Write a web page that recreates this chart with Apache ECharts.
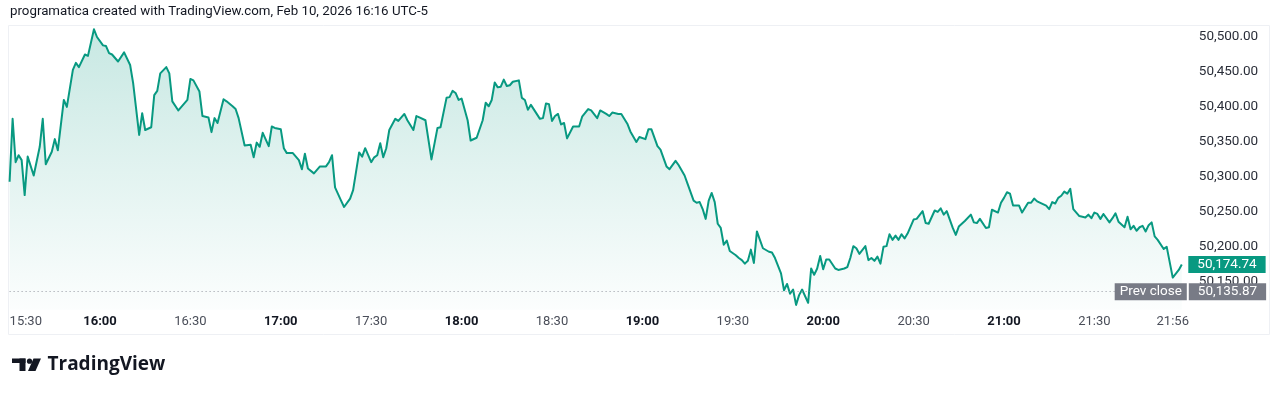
<!DOCTYPE html>
<html><head><meta charset="utf-8">
<script src="https://cdn.jsdelivr.net/npm/echarts@6/dist/echarts.min.js"></script>
<style>html,body{margin:0;padding:0;background:#fff;}#c{width:1280px;height:394px;}</style>
</head><body><div id="c"></div>
<script>
const headerText = 'programatica created with TradingView.com, Feb 10, 2026 16:16 UTC-5';
const brandText = 'TradingView';
const prevCloseLabel = 'Prev close';
const prevClose = 50135.87;
const sessionStart = '15:30';
const sessionEnd = '22:00';
const tickLabels = ['15:30','16:00','16:30','17:00','17:30','18:00','18:30','19:00','19:30','20:00','20:30','21:00','21:30','21:56'];

const times = [
'15:30','15:31','15:32','15:33','15:34','15:35','15:36','15:38','15:40','15:41','15:42','15:44','15:45','15:46','15:48','15:49',
'15:51','15:52','15:53','15:55','15:56','15:58','15:59','16:01','16:02','16:03','16:04','16:06','16:08','16:10','16:11','16:13',
'16:14','16:15','16:17','16:18','16:19','16:20','16:22','16:23','16:24','16:26','16:29','16:30','16:31','16:33','16:34','16:36',
'16:37','16:38','16:39','16:41','16:42','16:44','16:45','16:46','16:48','16:50','16:51','16:52','16:53','16:54','16:56','16:57',
'16:58','17:00','17:01','17:02','17:04','17:06','17:07','17:08','17:09','17:11','17:13','17:15','17:16','17:17','17:18','17:20',
'17:21','17:23','17:24','17:26','17:27','17:28','17:30','17:31','17:32','17:33','17:34','17:35','17:36','17:38','17:39','17:41',
'17:42','17:44','17:45','17:46','17:48','17:49','17:50','17:52','17:53','17:55','17:56','17:57','17:58','17:59','18:00','18:02',
'18:03','18:05','18:07','18:08','18:09','18:10','18:11','18:12','18:13','18:14','18:15','18:16','18:17','18:19','18:20','18:21',
'18:22','18:23','18:26','18:27','18:28','18:29','18:30','18:31','18:32','18:33','18:34','18:35','18:37','18:39','18:40','18:42',
'18:43','18:45','18:46','18:48','18:49','18:50','18:52','18:53','18:55','18:56','18:58','18:59','19:01','19:02','19:03','19:05',
'19:06','19:08','19:09','19:11','19:12','19:14','19:15','19:17','19:18','19:19','19:20','19:21','19:22','19:23','19:24','19:25',
'19:26','19:27','19:28','19:29','19:31','19:32','19:33','19:34','19:35','19:36','19:37','19:38','19:39','19:40','19:42','19:43',
'19:44','19:46','19:47','19:48','19:49','19:50','19:51','19:52','19:53','19:55','19:56','19:57','19:58','19:59','20:00','20:01',
'20:02','20:04','20:05','20:07','20:08','20:09','20:10','20:11','20:12','20:14','20:15','20:16','20:17','20:18','20:19','20:20',
'20:21','20:22','20:23','20:24','20:25','20:26','20:27','20:28','20:30','20:31','20:33','20:34','20:35','20:37','20:38','20:39',
'20:40','20:41','20:43','20:44','20:45','20:47','20:49','20:50','20:51','20:52','20:54','20:55','20:56','20:58','20:59','21:00',
'21:01','21:02','21:03','21:05','21:06','21:08','21:09','21:10','21:11','21:14','21:15','21:16','21:17','21:18','21:19','21:20',
'21:21','21:22','21:23','21:25','21:27','21:28','21:29','21:30','21:31','21:32','21:33','21:35','21:36','21:37','21:38','21:40',
'21:41','21:42','21:43','21:44','21:45','21:46','21:47','21:48','21:49','21:50','21:51','21:53','21:54','21:56','21:58','21:59'
];

const prices = [
50293,50383,50321,50331,50324,50274,50329,50302,50343,50383,50318,50336,50354,50338,50410,50400,
50453,50463,50457,50475,50473,50511,50500,50488,50487,50477,50475,50465,50478,50460,50434,50360,
50391,50367,50371,50417,50423,50448,50457,50448,50408,50395,50410,50440,50438,50422,50387,50385,
50364,50384,50377,50411,50408,50401,50397,50384,50345,50346,50328,50349,50343,50363,50344,50372,
50370,50368,50341,50334,50334,50324,50311,50333,50312,50305,50315,50315,50321,50331,50285,50266,
50257,50269,50281,50335,50329,50341,50321,50328,50331,50348,50328,50341,50367,50383,50380,50390,
50381,50367,50387,50385,50381,50353,50325,50370,50371,50413,50414,50423,50420,50410,50412,50381,
50352,50356,50381,50406,50401,50410,50435,50428,50429,50439,50430,50431,50436,50438,50413,50410,
50396,50403,50383,50384,50405,50404,50380,50387,50390,50375,50377,50355,50372,50372,50386,50397,
50395,50384,50395,50390,50387,50392,50390,50390,50376,50365,50350,50357,50354,50368,50368,50344,
50339,50315,50311,50323,50317,50302,50290,50266,50263,50264,50254,50240,50266,50277,50264,50233,
50227,50203,50209,50194,50188,50184,50181,50176,50180,50196,50177,50222,50210,50198,50193,50192,
50184,50162,50138,50147,50133,50139,50117,50131,50139,50120,50169,50160,50169,50187,50168,50182,
50182,50169,50167,50169,50171,50184,50201,50198,50190,50201,50181,50184,50180,50186,50176,50200,
50201,50218,50210,50216,50210,50218,50212,50219,50239,50240,50251,50234,50233,50252,50250,50255,
50246,50251,50227,50217,50229,50237,50246,50235,50234,50240,50227,50228,50253,50249,50263,50270,
50278,50276,50259,50259,50249,50263,50263,50269,50265,50259,50254,50264,50262,50270,50273,50279,
50276,50283,50254,50244,50242,50246,50241,50249,50247,50240,50247,50235,50241,50248,50236,50228,
50243,50225,50230,50223,50228,50230,50222,50231,50235,50215,50210,50197,50200,50156,50167,50174.74
];

const lastPrice = prices[prices.length - 1];
const baseMin = (() => { const [h, m] = sessionStart.split(':').map(Number); return h * 60 + m; })();
const toMin = t => { const [h, m] = t.split(':').map(Number); return h * 60 + m - baseMin; };
const toClock = v => { const a = Math.round(v) + baseMin; const h = Math.floor(a / 60), m = a % 60; return h + ':' + (m < 10 ? '0' : '') + m; };
const fmt = v => v.toLocaleString('en-US', {minimumFractionDigits: 2, maximumFractionDigits: 2});

const seriesData = times.map((t, i) => [toMin(t), prices[i]]);
const tickValues = tickLabels.map(toMin);

const FONT = 'Roboto, "Noto Sans", sans-serif';
const HIDDEN = 'rgba(0,0,0,0)';
const chart = echarts.init(document.getElementById('c'), null, {renderer: 'canvas'});
chart.setOption({
  animation: false,
  backgroundColor: '#ffffff',
  textStyle: {fontFamily: FONT},
  title: {
    text: headerText, left: 10, top: 5, padding: 0,
    textStyle: {fontSize: 13.3, fontWeight: 'normal', color: '#131722', fontFamily: FONT}
  },
  graphic: [
    {type: 'rect', silent: true, shape: {x: 8.5, y: 25.5, width: 1261, height: 309}, style: {fill: 'none', stroke: '#eef0f4', lineWidth: 1}, z: -10},
    {type: 'rect', silent: true, shape: {x: 12, y: 358.5, width: 13.5, height: 4.5}, style: {fill: '#131722'}},
    {type: 'rect', silent: true, shape: {x: 19.5, y: 358.5, width: 6, height: 12.5}, style: {fill: '#131722'}},
    {type: 'circle', silent: true, shape: {cx: 29.5, cy: 361.2, r: 2.6}, style: {fill: '#131722'}},
    {type: 'polygon', silent: true, shape: {points: [[33.5, 358.5], [41, 358.5], [35.5, 371], [28, 371]]}, style: {fill: '#131722'}},
    {type: 'text', silent: true, x: 47.5, y: 365, style: {text: brandText, fill: '#131722', font: 'bold 19px "Open Sans", Roboto, sans-serif', verticalAlign: 'middle', align: 'left'}}
  ],
  grid: {left: 9.6, width: 1175.2, top: 23, height: 286.8, containLabel: false},
  xAxis: {
    type: 'value', min: toMin(sessionStart), max: toMin(sessionEnd),
    axisLine: {show: false}, axisTick: {show: false}, splitLine: {show: false},
    axisLabel: {
      customValues: tickValues,
      margin: 5,
      alignMinLabel: 'left',
      formatter: v => { const s = toClock(v); return s.endsWith(':00') ? '{b|' + s + '}' : '{n|' + s + '}'; },
      rich: {
        b: {fontSize: 13, fontWeight: 'bold', color: '#131722', fontFamily: FONT},
        n: {fontSize: 13, fontWeight: 'normal', color: '#4a4e59', fontFamily: FONT}
      }
    }
  },
  yAxis: {
    type: 'value', position: 'right', min: 50110, max: 50520, splitNumber: 8,
    axisLine: {show: false}, axisTick: {show: false}, splitLine: {show: false},
    axisLabel: {
      align: 'left', margin: 14, fontSize: 13.5, color: '#2a2e39', fontFamily: FONT,
      formatter: v => (Math.abs(v % 50) < 1e-6 ? fmt(v) : '')
    }
  },
  series: [{
    type: 'line',
    data: seriesData,
    showSymbol: false,
    lineStyle: {color: '#089981', width: 2, join: 'round'},
    itemStyle: {color: '#089981'},
    areaStyle: {
      origin: 'start',
      color: new echarts.graphic.LinearGradient(0, 0, 0, 1, [
        {offset: 0, color: 'rgba(8,153,129,0.32)'},
        {offset: 1, color: 'rgba(8,153,129,0.02)'}
      ])
    },
    markLine: {
      silent: true,
      symbol: ['none', 'none'],
      data: [
        {yAxis: prevClose, lineStyle: {color: '#9598a1', type: [1, 3], width: 1},
         label: {position: 'end', distance: 4, opacity: 1, formatter: () => fmt(prevClose), color: '#ffffff', backgroundColor: '#787b86', fontSize: 13.5, lineHeight: 14, padding: [2, 9, 1, 9], fontFamily: FONT}},
        {yAxis: prevClose, lineStyle: {color: HIDDEN, width: 0},
         label: {show: true, position: 'insideEnd', distance: -2, opacity: 1, formatter: () => prevCloseLabel, color: '#ffffff', backgroundColor: '#787b86', fontSize: 13.5, lineHeight: 14, padding: [2, 5, 1, 5], fontFamily: FONT}},
        {yAxis: lastPrice, lineStyle: {color: HIDDEN, width: 0},
         label: {show: true, position: 'end', distance: 3.5, opacity: 1, formatter: () => fmt(lastPrice), color: '#ffffff', backgroundColor: '#089981', fontSize: 13.5, lineHeight: 14, padding: [2, 9, 1, 9], fontFamily: FONT}}
      ]
    }
  }]
});
</script></body></html>
